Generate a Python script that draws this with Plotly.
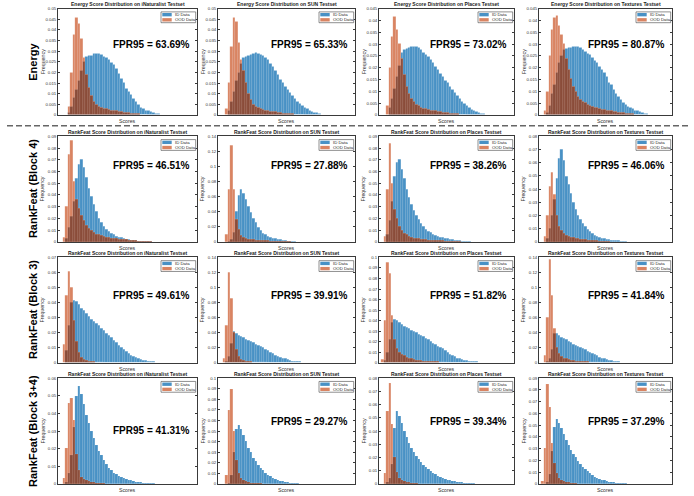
import numpy as np
import plotly.graph_objects as go

# ---------------- data ----------------
ROW_NAMES = ["Energy", "RankFeat (Block 4)", "RankFeat (Block 3)", "RankFeat (Block 3+4)"]
ROW_METHODS = ["Energy", "RankFeat", "RankFeat", "RankFeat"]
DATASETS = ["iNaturalist", "SUN", "Places", "Textures"]
FPR95 = [
    [63.69, 65.33, 73.02, 80.87],
    [46.51, 27.88, 38.26, 46.06],
    [49.61, 39.91, 51.82, 41.84],
    [41.31, 29.27, 39.34, 37.29],
]
Y_MAX = [
    [0.05, 0.05, 0.045, 0.045],
    [0.09, 0.14, 0.09, 0.08],
    [0.07, 0.14, 0.1, 0.14],
    [0.06, 0.1, 0.08, 0.09],
]
Y_STEP = [
    [0.005, 0.005, 0.005, 0.005],
    [0.01, 0.02, 0.01, 0.01],
    [0.01, 0.02, 0.01, 0.02],
    [0.01, 0.01, 0.01, 0.01],
]
N_BINS = 56  # score bins across each axis

# histogram frequencies; *_start = index of first score bin
energy_inat_id_start = 4
energy_inat_id = [0.001, 0.004, 0.008, 0.012, 0.016, 0.021, 0.025, 0.0275, 0.0278, 0.028, 0.0288, 0.029, 0.0286, 0.0282,
                  0.0276, 0.027, 0.026, 0.0248, 0.0235, 0.0218, 0.0195, 0.017, 0.015, 0.0125, 0.0108, 0.0093, 0.0075,
                  0.006, 0.0046, 0.0036, 0.0028, 0.0022, 0.0018, 0.0014, 0.0011, 0.0008, 0.0005, 0.0003, 0.0001]
energy_inat_ood_start = 4
energy_inat_ood = [0.004, 0.02, 0.038, 0.046, 0.043, 0.036, 0.027, 0.019, 0.013, 0.009, 0.006, 0.005, 0.004, 0.0035,
                   0.003, 0.003, 0.0025, 0.0022, 0.002, 0.0018, 0.0015, 0.0013, 0.0012, 0.001, 0.0009, 0.0008, 0.0006,
                   0.0005, 0.0004, 0.0003, 0.0002, 0.0001]

energy_sun_id_start = 4
energy_sun_id = [0.002, 0.006, 0.011, 0.016, 0.02, 0.024, 0.027, 0.0275, 0.028, 0.0285, 0.029, 0.0292, 0.029, 0.0285,
                 0.028, 0.027, 0.0258, 0.0242, 0.0225, 0.0208, 0.0188, 0.0168, 0.015, 0.0134, 0.0118, 0.0103, 0.009,
                 0.0075, 0.0063, 0.0052, 0.0042, 0.0033, 0.0027, 0.0021, 0.0016, 0.0012, 0.0009, 0.0006, 0.0003, 0.0001]
energy_sun_ood_start = 3
energy_sun_ood = [0.003, 0.015, 0.032, 0.046, 0.044, 0.034, 0.026, 0.021, 0.015, 0.01, 0.007, 0.005, 0.004, 0.0032,
                  0.0028, 0.0025, 0.0021, 0.0019, 0.0017, 0.0015, 0.0013, 0.0011, 0.001, 0.0008, 0.0007, 0.0006,
                  0.0005, 0.0004, 0.0003, 0.0002, 0.0002, 0.0001]

energy_places_id_start = 4
energy_places_id = [0.003, 0.007, 0.011, 0.016, 0.021, 0.0265, 0.0275, 0.028, 0.0285, 0.029, 0.029, 0.0288, 0.0283,
                    0.0275, 0.0265, 0.0256, 0.0245, 0.0232, 0.022, 0.0206, 0.019, 0.0176, 0.016, 0.0145, 0.0135,
                    0.012, 0.0105, 0.0094, 0.008, 0.0068, 0.0056, 0.0046, 0.0038, 0.003, 0.0024, 0.0018, 0.0013,
                    0.001, 0.0007, 0.0004, 0.0002]
energy_places_ood_start = 3
energy_places_ood = [0.004, 0.02, 0.033, 0.0415, 0.036, 0.03, 0.024, 0.017, 0.012, 0.009, 0.007, 0.0055, 0.0045,
                     0.0038, 0.0032, 0.0028, 0.0025, 0.0022, 0.002, 0.0018, 0.0016, 0.0014, 0.0013, 0.0011, 0.001,
                     0.0008, 0.0007, 0.0006, 0.0005, 0.0004, 0.0003, 0.0002, 0.0001]

energy_textures_id_start = 3
energy_textures_id = [0.001, 0.004, 0.009, 0.013, 0.018, 0.022, 0.025, 0.0275, 0.028, 0.0283, 0.0286, 0.029, 0.029,
                      0.0288, 0.0284, 0.0278, 0.027, 0.026, 0.0255, 0.0243, 0.023, 0.022, 0.0205, 0.019, 0.0177,
                      0.016, 0.0138, 0.0126, 0.0108, 0.009, 0.0077, 0.0063, 0.0052, 0.0043, 0.0036, 0.003, 0.0025,
                      0.002, 0.0016, 0.0013, 0.001, 0.0007, 0.0004, 0.0002]
energy_textures_ood_start = 2
energy_textures_ood = [0.002, 0.01, 0.025, 0.036, 0.041, 0.042, 0.038, 0.034, 0.03, 0.024, 0.019, 0.0155, 0.012, 0.01,
                       0.0078, 0.0066, 0.0056, 0.005, 0.0045, 0.004, 0.0035, 0.0032, 0.003, 0.0026, 0.0023, 0.0021,
                       0.0019, 0.0017, 0.0016, 0.0014, 0.0012, 0.0011, 0.0009, 0.0008, 0.0007, 0.0006, 0.0005,
                       0.0004, 0.0003, 0.0003, 0.0002, 0.0002, 0.0001]

b4_inat_id_start = 3
b4_inat_id = [0.003, 0.012, 0.022, 0.035, 0.054, 0.066, 0.07, 0.064, 0.055, 0.046, 0.039, 0.032, 0.026, 0.0205, 0.0165,
              0.0135, 0.011, 0.009, 0.0075, 0.0062, 0.0051, 0.0042, 0.0035, 0.0029, 0.0024, 0.002, 0.0016, 0.0013,
              0.001, 0.0008, 0.0006, 0.0004, 0.0003, 0.0002, 0.0001]
b4_inat_ood_start = 2
b4_inat_ood = [0.004, 0.03, 0.075, 0.087, 0.052, 0.036, 0.029, 0.023, 0.018, 0.014, 0.0115, 0.0095, 0.008, 0.0068,
               0.006, 0.0052, 0.0046, 0.0041, 0.0037, 0.0033, 0.003, 0.0027, 0.0024, 0.0022, 0.002, 0.0018, 0.0016,
               0.0014, 0.0012, 0.001, 0.0008, 0.0006, 0.0004, 0.0003, 0.0002, 0.0001]

b4_sun_id_start = 4
b4_sun_id = [0.001, 0.004, 0.012, 0.04, 0.062, 0.07, 0.064, 0.056, 0.047, 0.039, 0.031, 0.026, 0.019, 0.0155, 0.0118,
             0.0095, 0.0076, 0.0062, 0.005, 0.0041, 0.0033, 0.0027, 0.0022, 0.0017, 0.0013, 0.0009, 0.0005, 0.0002]
b4_sun_ood_start = 3
b4_sun_ood = [0.01, 0.07, 0.128, 0.07, 0.03, 0.016, 0.009, 0.0065, 0.0048, 0.004, 0.0034, 0.003, 0.0026, 0.0023, 0.002,
              0.0018, 0.0016, 0.0014, 0.0013, 0.0011, 0.001, 0.0008, 0.0007, 0.0006, 0.0005, 0.0003, 0.0002]

b4_places_id_start = 3
b4_places_id = [0.006, 0.018, 0.035, 0.056, 0.068, 0.07, 0.062, 0.054, 0.045, 0.038, 0.032, 0.027, 0.023, 0.0195, 0.016,
                0.013, 0.011, 0.0092, 0.0078, 0.0066, 0.0056, 0.0048, 0.0041, 0.0035, 0.003, 0.0026, 0.0022, 0.0019,
                0.0016, 0.0013, 0.0011, 0.0008, 0.0006, 0.0004, 0.0002]
b4_places_ood_start = 2
b4_places_ood = [0.005, 0.045, 0.084, 0.05, 0.028, 0.02, 0.0135, 0.01, 0.0075, 0.006, 0.0048, 0.004, 0.0034, 0.003,
                 0.0027, 0.0024, 0.0021, 0.0019, 0.0017, 0.0015, 0.0014, 0.0012, 0.0011, 0.001, 0.0009, 0.0008,
                 0.0007, 0.0006, 0.0005, 0.0004, 0.0003, 0.0002]

b4_textures_id_start = 3
b4_textures_id = [0.003, 0.01, 0.02, 0.032, 0.048, 0.063, 0.07, 0.062, 0.05, 0.044, 0.037, 0.03, 0.0245, 0.0205, 0.017,
                  0.0143, 0.0115, 0.0093, 0.0078, 0.0063, 0.0053, 0.0045, 0.0037, 0.003, 0.0025, 0.002, 0.0017,
                  0.0014, 0.0012, 0.001, 0.0008, 0.0006, 0.0004, 0.0002]
b4_textures_ood_start = 2
b4_textures_ood = [0.004, 0.02, 0.042, 0.053, 0.036, 0.02, 0.012, 0.0085, 0.0065, 0.0052, 0.0043, 0.0037, 0.0032,
                   0.0028, 0.0024, 0.0021, 0.0019, 0.0017, 0.0015, 0.0013, 0.0011, 0.001, 0.0008, 0.0007, 0.0006,
                   0.0005, 0.0003, 0.0002]

b3_inat_id_start = 3
b3_inat_id = [0.008, 0.025, 0.04, 0.0415, 0.041, 0.0385, 0.0362, 0.0345, 0.033, 0.031, 0.0285, 0.0275, 0.0262, 0.0245,
              0.023, 0.0215, 0.0197, 0.0182, 0.0165, 0.0148, 0.0132, 0.0115, 0.01, 0.0085, 0.0073, 0.006, 0.0048,
              0.004, 0.0032, 0.0025, 0.002, 0.0016, 0.0012, 0.0009, 0.0007, 0.0005, 0.0003, 0.0002]
b3_inat_ood_start = 2
b3_inat_ood = [0.012, 0.045, 0.061, 0.05, 0.028, 0.014, 0.0065, 0.0035, 0.002, 0.0014, 0.001, 0.0007, 0.0005, 0.0003,
               0.0002, 0.0001]

b3_sun_id_start = 3
b3_sun_id = [0.002, 0.008, 0.026, 0.041, 0.039, 0.0365, 0.035, 0.0335, 0.0315, 0.0302, 0.0282, 0.0265, 0.0248, 0.0232,
             0.0215, 0.0197, 0.0178, 0.0162, 0.0142, 0.0122, 0.0102, 0.0088, 0.0075, 0.006, 0.005, 0.0038, 0.003,
             0.0023, 0.0018, 0.0014, 0.001, 0.0008, 0.0006, 0.0004, 0.0002]
b3_sun_ood_start = 2
b3_sun_ood = [0.005, 0.05, 0.12, 0.085, 0.04, 0.017, 0.008, 0.0045, 0.003, 0.002, 0.0015, 0.001, 0.0008, 0.0006,
              0.0004, 0.0003, 0.0002, 0.0001]

b3_places_id_start = 2
b3_places_id = [0.002, 0.01, 0.022, 0.038, 0.0415, 0.0405, 0.038, 0.0362, 0.0348, 0.0335, 0.0323, 0.031, 0.0296,
                0.0285, 0.0272, 0.026, 0.0248, 0.0232, 0.0217, 0.0202, 0.0187, 0.0172, 0.0158, 0.0145, 0.0135,
                0.0117, 0.0098, 0.0083, 0.007, 0.0055, 0.0045, 0.0036, 0.003, 0.0024, 0.0019, 0.0015, 0.0013,
                0.001, 0.0007, 0.0005, 0.0002]
b3_places_ood_start = 1
b3_places_ood = [0.003, 0.04, 0.095, 0.085, 0.045, 0.022, 0.0135, 0.0102, 0.008, 0.0068, 0.0053, 0.0045, 0.0038,
                 0.003, 0.0025, 0.0021, 0.0018, 0.0016, 0.0014, 0.0012, 0.0011, 0.001, 0.0008, 0.0007, 0.0005,
                 0.0004, 0.0002]

b3_textures_id_start = 3
b3_textures_id = [0.001, 0.006, 0.018, 0.039, 0.0395, 0.036, 0.0342, 0.032, 0.0305, 0.0285, 0.0265, 0.0245, 0.0228,
                  0.0212, 0.0198, 0.0185, 0.017, 0.0155, 0.0138, 0.012, 0.0105, 0.009, 0.0075, 0.0062, 0.005, 0.004,
                  0.0033, 0.0026, 0.002, 0.0016, 0.0012, 0.0009, 0.0006, 0.0004, 0.0002]
b3_textures_ood_start = 2
b3_textures_ood = [0.01, 0.06, 0.137, 0.09, 0.045, 0.02, 0.012, 0.0082, 0.0062, 0.005, 0.004, 0.0033, 0.0027, 0.0022,
                   0.0019, 0.0017, 0.0015, 0.0012, 0.001, 0.0008, 0.0006, 0.0005, 0.0003, 0.0002]

b34_inat_id_start = 3
b34_inat_id = [0.001, 0.006, 0.016, 0.032, 0.05, 0.0553, 0.051, 0.045, 0.039, 0.0345, 0.03, 0.026, 0.022, 0.0188,
               0.016, 0.0132, 0.011, 0.009, 0.0078, 0.0062, 0.0052, 0.0043, 0.0036, 0.003, 0.0025, 0.0021, 0.0018,
               0.0015, 0.0012, 0.001, 0.0008, 0.0006, 0.0005, 0.0003, 0.0002, 0.0001]
b34_inat_ood_start = 2
b34_inat_ood = [0.003, 0.02, 0.046, 0.0485, 0.036, 0.017, 0.0075, 0.004, 0.0025, 0.0018, 0.0013, 0.001, 0.0007,
                0.0005, 0.0003, 0.0002, 0.0001]

b34_sun_id_start = 4
b34_sun_id = [0.001, 0.008, 0.03, 0.052, 0.0555, 0.052, 0.046, 0.04, 0.0335, 0.0295, 0.0245, 0.021, 0.0178, 0.015,
              0.0125, 0.0105, 0.0085, 0.007, 0.0057, 0.0047, 0.0038, 0.0029, 0.0024, 0.0019, 0.0014, 0.001, 0.0008,
              0.0005, 0.0003, 0.0001]
b34_sun_ood_start = 3
b34_sun_ood = [0.008, 0.07, 0.09, 0.05, 0.022, 0.01, 0.0055, 0.0035, 0.0025, 0.0015, 0.001, 0.0008, 0.0006, 0.0004,
               0.0002, 0.0001]

b34_places_id_start = 3
b34_places_id = [0.001, 0.004, 0.015, 0.042, 0.0547, 0.051, 0.046, 0.04, 0.035, 0.031, 0.027, 0.024, 0.021, 0.0185,
                 0.0162, 0.0142, 0.0125, 0.0108, 0.0093, 0.0082, 0.007, 0.006, 0.0051, 0.0043, 0.0036, 0.003, 0.0025,
                 0.0021, 0.0017, 0.0014, 0.0011, 0.0009, 0.0007, 0.0005, 0.0003, 0.0002, 0.0001]
b34_places_ood_start = 2
b34_places_ood = [0.008, 0.055, 0.0765, 0.045, 0.02, 0.0085, 0.0045, 0.0028, 0.0018, 0.0012, 0.0009, 0.0006, 0.0004,
                  0.0002]

b34_textures_id_start = 3
b34_textures_id = [0.001, 0.008, 0.028, 0.048, 0.055, 0.052, 0.0475, 0.042, 0.0375, 0.033, 0.029, 0.0255, 0.0225,
                   0.0195, 0.017, 0.0145, 0.0125, 0.0105, 0.0088, 0.0072, 0.006, 0.005, 0.0041, 0.0034, 0.0028,
                   0.0022, 0.0018, 0.0014, 0.0011, 0.0008, 0.0006, 0.0004, 0.0003, 0.0002, 0.0001]
b34_textures_ood_start = 1
b34_textures_ood = [0.002, 0.03, 0.085, 0.065, 0.035, 0.018, 0.009, 0.005, 0.0035, 0.0022, 0.0016, 0.0012, 0.0008,
                    0.0005, 0.0002]

# table built from the named lists: rows = methods, cols = datasets
HIST = [
    [(energy_inat_id_start, energy_inat_id, energy_inat_ood_start, energy_inat_ood),
     (energy_sun_id_start, energy_sun_id, energy_sun_ood_start, energy_sun_ood),
     (energy_places_id_start, energy_places_id, energy_places_ood_start, energy_places_ood),
     (energy_textures_id_start, energy_textures_id, energy_textures_ood_start, energy_textures_ood)],
    [(b4_inat_id_start, b4_inat_id, b4_inat_ood_start, b4_inat_ood),
     (b4_sun_id_start, b4_sun_id, b4_sun_ood_start, b4_sun_ood),
     (b4_places_id_start, b4_places_id, b4_places_ood_start, b4_places_ood),
     (b4_textures_id_start, b4_textures_id, b4_textures_ood_start, b4_textures_ood)],
    [(b3_inat_id_start, b3_inat_id, b3_inat_ood_start, b3_inat_ood),
     (b3_sun_id_start, b3_sun_id, b3_sun_ood_start, b3_sun_ood),
     (b3_places_id_start, b3_places_id, b3_places_ood_start, b3_places_ood),
     (b3_textures_id_start, b3_textures_id, b3_textures_ood_start, b3_textures_ood)],
    [(b34_inat_id_start, b34_inat_id, b34_inat_ood_start, b34_inat_ood),
     (b34_sun_id_start, b34_sun_id, b34_sun_ood_start, b34_sun_ood),
     (b34_places_id_start, b34_places_id, b34_places_ood_start, b34_places_ood),
     (b34_textures_id_start, b34_textures_id, b34_textures_ood_start, b34_textures_ood)],
]

# ---------------- layout / style ----------------
W, H = 694, 496
COL_PX = [(58, 197), (218, 355), (379, 514), (539, 672)]
ROW_PX = [(6.7, 114), (135.7, 242.3), (258, 364.3), (380, 486.7)]
FPR_Y = [[0.66] * 4, [0.72] * 4, [0.64] * 4, [0.50, 0.59, 0.59, 0.59]]

FONT = "Liberation Sans, Arial, Helvetica, sans-serif"
C_ID = "#4891C5"
C_OOD = "#D98462"
C_OVER = "#8A4C39"
C_AX = "#3a3a3a"
EDGE = dict(width=0.3, color="rgba(255,255,255,0.3)")

fig = go.Figure()
annotations = []
shapes = []


def full(start, vals):
    arr = np.zeros(N_BINS)
    arr[start:start + len(vals)] = vals
    return arr


centers = np.arange(N_BINS) + 0.5

for r in range(4):
    for c in range(4):
        k = r * 4 + c + 1
        xa = "x" if k == 1 else f"x{k}"
        ya = "y" if k == 1 else f"y{k}"
        xl = "xaxis" if k == 1 else f"xaxis{k}"
        yl = "yaxis" if k == 1 else f"yaxis{k}"
        ids, idv, oods, oodv = HIST[r][c]
        id_f = full(ids, idv)
        ood_f = full(oods, oodv)
        ov = np.minimum(id_f, ood_f)
        for arr, col, nm in [(id_f, C_ID, "ID Data"), (ood_f, C_OOD, "OOD Data"), (ov, C_OVER, "overlap")]:
            m = arr > 0
            fig.add_trace(go.Bar(x=centers[m], y=arr[m], width=1.0, marker=dict(color=col, line=EDGE),
                                 xaxis=xa, yaxis=ya, showlegend=False, name=nm, hoverinfo="skip"))

        x0, x1 = COL_PX[c]
        t0, t1 = ROW_PX[r]
        pw, ph = x1 - x0, t1 - t0
        ymax, ystep = Y_MAX[r][c], Y_STEP[r][c]
        tv = np.round(np.arange(0, ymax + ystep / 2, ystep), 4)
        fig.layout[xl] = dict(domain=[x0 / W, x1 / W], range=[0, N_BINS], anchor=ya,
                              showticklabels=False, ticks="", showgrid=False, zeroline=False,
                              showline=True, mirror=True, linecolor=C_AX, linewidth=0.9, fixedrange=True)
        fig.layout[yl] = dict(domain=[1 - t1 / H, 1 - t0 / H], range=[0, ymax * 1.0005], anchor=xa,
                              tickvals=list(tv), ticktext=[f"{v:g}" for v in tv],
                              ticks="inside", ticklen=2.5, tickwidth=0.6, tickcolor=C_AX,
                              tickfont=dict(size=4.3, color="#333", family=FONT),
                              showgrid=False, zeroline=False, showline=True, mirror="ticks",
                              linecolor=C_AX, linewidth=0.9, fixedrange=True)

        xd, yd = f"{xa} domain", f"{ya} domain"
        annotations.append(dict(text=f"<b>{ROW_METHODS[r]} Score Distribution on {DATASETS[c]} Testset</b>",
                                xref=xd, yref=yd, x=0.5, y=1, yanchor="bottom", xanchor="center", yshift=-0.5,
                                showarrow=False, font=dict(size=5.0, color="#222", family=FONT)))
        annotations.append(dict(text="Scores", xref=xd, yref=yd, x=0.5, y=0, yanchor="top", xanchor="center",
                                yshift=-1, showarrow=False, font=dict(size=5.2, color="#333", family=FONT)))
        annotations.append(dict(text="Frequency", xref=xd, yref=yd, x=-15.5 / pw, y=0.5, textangle=-90,
                                xanchor="center", yanchor="middle", showarrow=False,
                                font=dict(size=5.3, color="#333", family=FONT)))
        annotations.append(dict(text=f"<b>FPR95 = {FPR95[r][c]:.2f}%</b>", xref=xd, yref=yd, x=0.965,
                                y=FPR_Y[r][c], xanchor="right", yanchor="middle", showarrow=False,
                                font=dict(size=10, color="#000", family=FONT)))
        # legend box (top-right, inside axes)
        shapes.append(dict(type="rect", xref=xd, yref=yd, x0=1 - 36 / pw, x1=1 - 1.3 / pw,
                           y0=1 - 14.2 / ph, y1=1 - 3.3 / ph, line=dict(color="#444", width=0.6),
                           fillcolor="white", layer="above"))
        for j, (col, lab) in enumerate([(C_ID, "ID Data"), (C_OOD, "OOD Data")]):
            yt = 4.4 + j * 5.2
            shapes.append(dict(type="rect", xref=xd, yref=yd, x0=1 - 34.7 / pw, x1=1 - 25.3 / pw,
                               y0=1 - (yt + 3.4) / ph, y1=1 - yt / ph, line=dict(width=0),
                               fillcolor=col, layer="above"))
            annotations.append(dict(text=lab, xref=xd, yref=yd, x=1 - 24.4 / pw, y=1 - (yt + 1.7) / ph,
                                    xanchor="left", yanchor="middle", showarrow=False,
                                    font=dict(size=4.3, color="#222", family=FONT)))

# row labels
for r in range(4):
    t0, t1 = ROW_PX[r]
    annotations.append(dict(text=f"<b>{ROW_NAMES[r]}</b>", xref="paper", yref="paper", x=33 / W,
                            y=1 - (t0 + t1) / 2 / H, textangle=-90, xanchor="center", yanchor="middle",
                            showarrow=False, font=dict(size=11, color="#000", family=FONT)))

# dashed separator
shapes.append(dict(type="line", xref="paper", yref="paper", x0=7 / W, x1=688 / W, y0=1 - 125 / H,
                   y1=1 - 125 / H, line=dict(color="#666", width=1.4, dash="6px,3px")))

fig.update_layout(width=W, height=H, margin=dict(l=0, r=0, t=0, b=0), paper_bgcolor="white",
                  plot_bgcolor="white", barmode="overlay", bargap=0, showlegend=False,
                  annotations=annotations, shapes=shapes, font=dict(family=FONT))

fig.write_html("out.html", config={"displayModeBar": False},
               post_script="document.body.style.margin='0px';document.body.style.overflow='hidden';")
